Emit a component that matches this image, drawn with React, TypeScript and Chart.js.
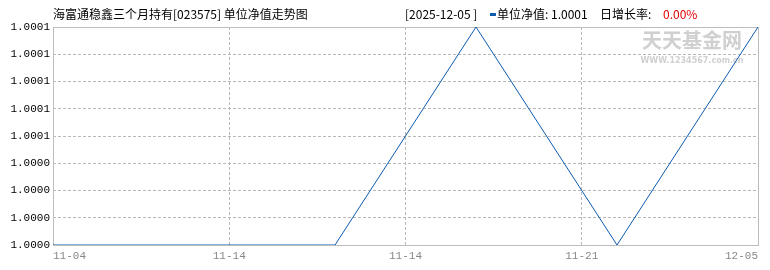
import React, { useEffect, useRef } from "react";
import { Chart, registerables } from "chart.js";

Chart.register(...registerables);

const titleText = "海富通稳鑫三个月持有[023575] 单位净值走势图";
const legendDate = "[2025-12-05 ]";
const legendNavLabel = "单位净值: 1.0001";
const legendRateLabel = "日增长率:";
const legendRateValue = "0.00%";

const pointIndex = [0, 1, 2, 3, 4, 5];
const navValues = [1.0, 1.0, 1.0, 1.0001, 1.0, 1.0001];

const xTickPositions = [0, 1.25, 2.5, 3.75, 5];
const xTickLabels = ["11-04", "11-14", "11-14", "11-21", "12-05"];

const yMin = 1.0;
const yMax = 1.0001;
const yTickLabels = [
  "1.0000",
  "1.0000",
  "1.0000",
  "1.0000",
  "1.0001",
  "1.0001",
  "1.0001",
  "1.0001",
  "1.0001",
];

const LINE_COLOR = "#0d5cb0";
const GRID_COLOR = "#b8b8b8";
const MONO = "'Liberation Mono', 'DejaVu Sans Mono', monospace";
const CJK = "'Noto Sans CJK SC', sans-serif";

export default function App() {
  const ref = useRef<HTMLCanvasElement | null>(null);

  useEffect(() => {
    document.body.style.margin = "0";
    const canvas = ref.current;
    if (!canvas) return;

    const overlay = {
      id: "overlay",
      beforeDatasetsDraw(chart: any) {
        const { ctx, chartArea } = chart;
        const { left, right, top, bottom } = chartArea;
        ctx.save();
        // watermark
        ctx.fillStyle = "#d0d0d0";
        ctx.textAlign = "center";
        ctx.textBaseline = "middle";
        ctx.font = `bold 20px ${CJK}`;
        ctx.fillText("天天基金网", 692, 40);
        ctx.font = `bold 8px 'DejaVu Sans', sans-serif`;
        ctx.fillText("WWW.1234567.com.cn", 692, 61);
        // frame
        ctx.strokeStyle = "#bdbdbd";
        ctx.lineWidth = 1;
        ctx.setLineDash([]);
        ctx.strokeRect(Math.round(left) + 0.5, Math.round(top) + 0.5, Math.round(right - left), Math.round(bottom - top));
        ctx.restore();
      },
      afterDraw(chart: any) {
        const { ctx } = chart;
        ctx.save();
        ctx.textBaseline = "middle";
        ctx.textAlign = "left";
        ctx.fillStyle = "#000";
        ctx.font = `12px ${CJK}`;
        ctx.fillText(titleText, 53, 14);
        ctx.fillText(legendDate, 405, 14);
        ctx.fillStyle = LINE_COLOR;
        ctx.fillRect(490, 13, 6, 3);
        ctx.fillStyle = "#000";
        ctx.fillText(legendNavLabel, 497, 14);
        ctx.fillText(legendRateLabel, 600, 14);
        ctx.fillStyle = "#e00000";
        ctx.fillText(legendRateValue, 663, 14);
        ctx.restore();
      },
    };

    const chart = new Chart(canvas, {
      type: "line",
      data: {
        datasets: [
          {
            data: pointIndex.map((x, i) => ({ x, y: navValues[i] })),
            borderColor: LINE_COLOR,
            borderWidth: 1,
            pointRadius: 0,
            tension: 0,
            fill: false,
          },
        ],
      },
      options: {
        animation: false,
        responsive: false,
        maintainAspectRatio: false,
        layout: { padding: { top: 27, right: 12, left: 0, bottom: 0 } },
        plugins: {
          legend: { display: false },
          tooltip: { enabled: false },
          title: { display: false },
        },
        scales: {
          x: {
            type: "linear",
            min: 0,
            max: 5,
            afterBuildTicks: (scale: any) => {
              scale.ticks = xTickPositions.map((v) => ({ value: v }));
            },
            afterFit: (scale: any) => {
              scale.height = 25;
            },
            ticks: {
              autoSkip: false,
              maxRotation: 0,
              align: "inner",
              padding: 4,
              color: "#888",
              font: { family: MONO, size: 11 },
              callback: (_v: any, i: number) => xTickLabels[i],
            },
            grid: {
              color: (c: any) =>
                c.index === 0 || c.index === xTickPositions.length - 1 ? "rgba(0,0,0,0)" : GRID_COLOR,
              drawTicks: false,
              tickLength: 0,
            },
            border: { display: false, dash: [3, 2] },
          },
          y: {
            type: "linear",
            min: yMin,
            max: yMax,
            afterBuildTicks: (scale: any) => {
              const n = yTickLabels.length - 1;
              scale.ticks = yTickLabels.map((_, i) => ({ value: yMin + ((yMax - yMin) * i) / n }));
            },
            afterFit: (scale: any) => {
              scale.width = 53;
            },
            ticks: {
              autoSkip: false,
              padding: 3,
              color: "#000",
              font: { family: MONO, size: 11 },
              callback: (_v: any, i: number) => yTickLabels[i],
            },
            grid: {
              color: (c: any) =>
                c.index === 0 || c.index === yTickLabels.length - 1 ? "rgba(0,0,0,0)" : GRID_COLOR,
              drawTicks: false,
              tickLength: 0,
            },
            border: { display: false, dash: [3, 2] },
          },
        },
      } as any,
      plugins: [overlay],
    });

    return () => chart.destroy();
  }, []);

  return (
    <div style={{ position: "absolute", left: 0, top: 0, width: 770, height: 270, background: "#fff" }}>
      <canvas ref={ref} width={770} height={270} style={{ width: 770, height: 270 }} />
    </div>
  );
}
